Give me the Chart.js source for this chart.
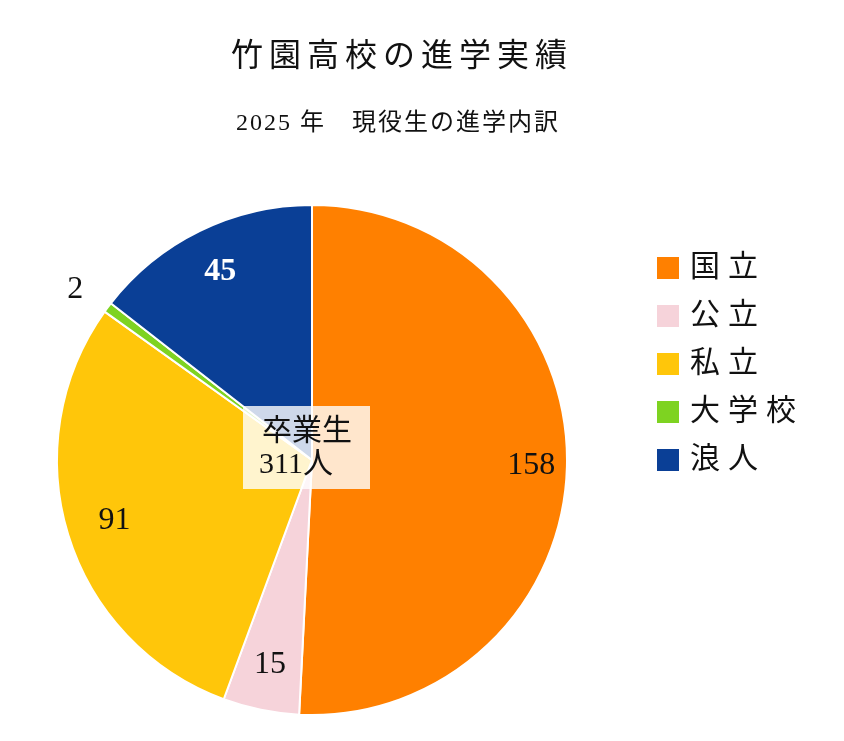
<!DOCTYPE html>
<html><head><meta charset="utf-8">
<script src="https://cdn.jsdelivr.net/npm/chart.js@4/dist/chart.umd.min.js"></script>
<style>body{margin:0;background:#fff}#wrap{width:844px;height:741px}</style>
</head><body><div id="wrap"><canvas id="c"></canvas></div>
<script>
"use strict";
const categories = ['国立', '公立', '私立', '大学校', '浪人'];
const counts = [158, 15, 91, 2, 45];
const colors = ['#FF8000', '#F6D3DA', '#FFC60A', '#7ED321', '#0A3F96'];
const titleText = '竹園高校の進学実績';
const subtitleText = '2025 年　現役生の進学内訳';
const SERIF = '"Liberation Serif", "DejaVu Serif", "Noto Sans CJK JP", serif';

function spaced(ctx, s, x, y, gap) {
    for (const ch of s) { ctx.fillText(ch, x, y); x += ctx.measureText(ch).width + gap; }
}

const overlay = {
    id: 'overlay',
    afterDraw(chart) {
        const ctx = chart.ctx;
        ctx.save();
        ctx.fillStyle = '#111';
        ctx.textBaseline = 'middle';
        ctx.textAlign = 'center';
        ctx.font = '32px ' + SERIF;
        ctx.letterSpacing = '6px';
        ctx.fillText(titleText, 402, 58);
        ctx.font = '24px ' + SERIF;
        ctx.letterSpacing = '2px';
        ctx.fillText(subtitleText, 398, 124);
        ctx.letterSpacing = '0px';
        // slice labels
        const meta = chart.getDatasetMeta(0);
        const pos = [[0.86, '#111', ''], [0.82, '#111', ''], [0.81, '#111', ''], [1.12, '#111', ''], [0.82, '#fff', 'bold ']];
        meta.data.forEach((arc, i) => {
            const a = (arc.startAngle + arc.endAngle) / 2;
            const r = arc.outerRadius * pos[i][0];
            ctx.fillStyle = pos[i][1];
            ctx.font = pos[i][2] + '32px ' + SERIF;
            let dx = 0;
            if (i === 3) dx = -8;
            ctx.fillText(String(counts[i]), arc.x + Math.cos(a) * r + dx, arc.y + Math.sin(a) * r);
        });
        // centre box
        const total = counts.reduce((s, v) => s + v, 0);
        ctx.fillStyle = 'rgba(255,255,255,0.8)';
        ctx.fillRect(243, 406, 127, 83);
        ctx.fillStyle = '#111';
        ctx.font = '30px ' + SERIF;
        ctx.fillText('卒業生', 307, 432);
        ctx.fillText(total + '人', 296, 465);
        // legend
        ctx.textAlign = 'left';
        ctx.font = '30px ' + SERIF;
        categories.forEach((c, i) => {
            const y = 268 + i * 48;
            ctx.fillStyle = colors[i];
            ctx.fillRect(657, y - 11, 22, 22);
            ctx.fillStyle = '#111';
            spaced(ctx, c, 690, y, 8);
        });
        ctx.restore();
    }
};

new Chart(document.getElementById('c'), {
    type: 'pie',
    data: {
        labels: categories,
        datasets: [{ data: counts, backgroundColor: colors, borderColor: '#fff', borderWidth: 2 }]
    },
    options: {
        responsive: true, maintainAspectRatio: false, animation: false,
        layout: { padding: { left: 56, right: 276, top: 204, bottom: 25 } },
        plugins: { legend: { display: false }, tooltip: { enabled: false } }
    },
    plugins: [overlay]
});
</script></body></html>
